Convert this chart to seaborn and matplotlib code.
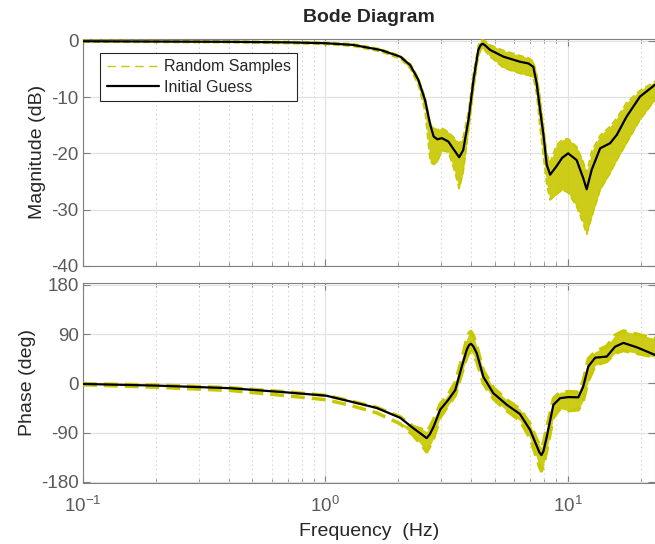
import matplotlib
matplotlib.use("Agg")
import numpy as np
import pandas as pd
import seaborn as sns
import matplotlib.pyplot as plt
from matplotlib.lines import Line2D
from matplotlib.ticker import LogLocator, FixedLocator

# --- magnitude (dB) ---
freq_mag = [0.1, 0.2, 0.4, 0.7, 1.0, 1.3, 1.69, 2.04, 2.24, 2.42, 2.58, 2.71, 2.8, 2.9,
            3.03, 3.22, 3.40, 3.57, 3.71, 3.90, 4.09, 4.28, 4.38, 4.47, 4.6, 4.79, 5.44,
            6.36, 6.89, 7.22, 7.45, 7.7, 7.94, 8.2, 8.47, 9.0, 9.5, 10.05, 10.9, 11.6,
            11.99, 12.58, 13.63, 14.98, 15.97, 17.5, 19.9, 22.95]
mag_nominal = [-0.05, -0.1, -0.15, -0.25, -0.4, -0.7, -1.6, -2.8, -4.3, -6.9, -10.5, -14.9,
               -17.0, -17.5, -17.3, -17.9, -19.4, -20.7, -19.4, -14.0, -6.9, -1.6, -0.7,
               -0.5, -0.9, -1.6, -2.8, -3.7, -4.0, -4.6, -7.5, -12.3, -16.5, -22.0, -23.8,
               -22.3, -20.8, -20.0, -21.2, -24.4, -26.4, -22.9, -19.1, -18.2, -16.7, -13.5,
               -9.9, -7.8]
mag_upper = [0.1, 0.05, 0.0, -0.1, -0.25, -0.5, -1.4, -2.6, -4.0, -6.5, -10.0, -14.5,
             -15.5, -15.8, -15.5, -16.2, -17.2, -18.3, -17.0, -12.5, -5.5, -0.8, 0.1,
             0.2, -0.1, -0.7, -1.7, -2.6, -3.0, -3.6, -5.8, -10.0, -14.8, -20.0, -21.7,
             -18.5, -17.6, -17.4, -18.8, -21.5, -23.5, -19.6, -16.8, -15.2, -13.7, -11.0,
             -8.8, -7.2]
mag_lower = [-0.2, -0.25, -0.3, -0.45, -0.6, -0.95, -1.9, -3.2, -4.9, -7.8, -12.5, -21.5,
             -22.0, -21.5, -19.5, -19.8, -22.8, -26.3, -23.3, -16.0, -8.8, -2.8, -1.6,
             -1.3, -1.9, -2.8, -4.8, -5.8, -6.1, -6.5, -9.5, -15.5, -20.5, -25.5, -28.3,
             -27.3, -26.5, -27.0, -29.5, -32.5, -34.4, -31.3, -26.5, -23.5, -21.2, -18.2,
             -14.0, -10.5]

# --- phase (deg) ---
freq_phase = [0.1, 0.2, 0.406, 0.673, 1.01, 1.268, 1.634, 2.04, 2.31, 2.55, 2.62, 2.7,
              2.8, 2.98, 3.22, 3.44, 3.66, 3.84, 3.92, 3.99, 4.08, 4.22, 4.49, 4.94, 5.61,
              6.36, 7.0, 7.47, 7.65, 7.8, 7.95, 8.21, 8.74, 9.31, 10.08, 11.08, 11.6,
              12.18, 13.0, 14.51, 15.7, 16.99, 19.3, 22.95]
phase_nominal = [-1, -4, -8.8, -16, -22.5, -33, -45, -63, -82, -96, -100, -93, -79, -48,
                 -30, -12, 31, 62, 70, 72.5, 68, 55, 12, -18, -39, -56, -85, -115, -126,
                 -131, -124, -97, -39, -27, -25, -25.5, -6, 31, 47, 49, 67, 74, 66, 52]
phase_upper = [-0.5, -3, -8, -15, -22, -32, -44, -61, -79, -85, -88, -80, -66, -38, -20,
               2, 45, 82, 92, 95, 88, 68, 24, -8, -30, -47, -74, -103, -112, -117, -108,
               -80, -28, -16, -15, -16, 5, 45, 58, 68, 88, 96, 90, 82]
phase_lower = [-2.5, -7, -13, -22, -30, -40, -54, -74, -95, -118, -125, -115, -100, -62,
               -40, -22, 18, 48, 56, 58, 52, 40, 0, -28, -50, -68, -100, -137, -152, -160,
               -150, -122, -62, -46, -50, -48, -32, 5, 33, 40, 55, 60, 55, 48]

mag_df = pd.DataFrame({"f": freq_mag, "nom": mag_nominal, "hi": mag_upper, "lo": mag_lower})
ph_df = pd.DataFrame({"f": freq_phase, "nom": phase_nominal, "hi": phase_upper, "lo": phase_lower})

YEL = "#C8C800"
GRAYTXT = "#5A5A5A"

sns.set_theme(style="ticks")
plt.rcParams['font.family'] = ['Liberation Sans', 'DejaVu Sans']
plt.rcParams['mathtext.fontset'] = 'custom'
plt.rcParams['mathtext.rm'] = 'Liberation Sans'
plt.rcParams['axes.unicode_minus'] = False

fig = plt.figure(figsize=(6.55, 5.44), dpi=100)
W, H = 655, 544
ax_mag = fig.add_axes([83 / W, 1 - 265.7 / H, 572 / W, 226.7 / H])
ax_ph = fig.add_axes([83 / W, 1 - 483 / H, 572 / W, 200.3 / H], sharex=ax_mag)


def draw_band(ax, df, edge_lw):
    spread = df["f"] >= 2.2
    ax.fill_between(df["f"], df["lo"], df["hi"], where=spread, interpolate=True,
                    color=YEL, alpha=0.9, lw=0, zorder=2)
    for col in ["hi", "lo"]:
        sns.lineplot(data=df, x="f", y=col, ax=ax, color=YEL, lw=edge_lw,
                     dashes=False, linestyle=(0, (4, 2)), zorder=3)
    sns.lineplot(data=df, x="f", y="nom", ax=ax, color="black", lw=1.6, zorder=5)


draw_band(ax_mag, mag_df, 1.2)
draw_band(ax_ph, ph_df, 2.5)

for ax in (ax_mag, ax_ph):
    ax.set_xscale("log")
    ax.set_xlim(0.1, 22.95)
    ax.xaxis.set_major_locator(LogLocator(base=10))
    ax.xaxis.set_minor_locator(LogLocator(base=10, subs=np.arange(2, 10)))
    ax.grid(which="major", color="#E2E2E2", lw=0.9, zorder=0)
    ax.grid(which="minor", axis="x", color="#C8C8C8", lw=0.8, ls=(0, (1, 3)), zorder=0)
    ax.set_axisbelow(True)
    ax.tick_params(which="both", direction="in", top=True, right=True, color="#808080",
                   labelcolor=GRAYTXT, labelsize=13.5, pad=3)
    ax.tick_params(axis="x", which="both", pad=9)
    ax.tick_params(which="major", length=5, width=0.8)
    ax.tick_params(which="minor", length=3, width=0.6)
    for s in ax.spines.values():
        s.set_color("#808080")
        s.set_linewidth(0.8)

ax_mag.set_ylim(-40, 0.35)
ax_mag.yaxis.set_major_locator(FixedLocator([-40, -30, -20, -10, 0]))
ax_mag.tick_params(axis="x", labelbottom=False)
ax_mag.set_ylabel("Magnitude (dB)", fontsize=14, color="#262626")
ax_mag.set_xlabel("")
ax_mag.set_title("Bode Diagram", fontsize=14, fontweight="bold", pad=12)

ax_ph.set_ylim(-182, 184)
ax_ph.yaxis.set_major_locator(FixedLocator([-180, -90, 0, 90, 180]))
ax_ph.set_ylabel("Phase (deg)", fontsize=14, color="#262626")
ax_ph.set_xlabel("Frequency  (Hz)", fontsize=14, color="#262626", labelpad=5)

handles = [Line2D([], [], color=YEL, lw=1.0, ls=(0, (6, 4))),
           Line2D([], [], color="black", lw=1.6)]
leg = ax_mag.legend(handles, ["Random Samples", "Initial Guess"], loc="upper left",
                    bbox_to_anchor=(0.03, 0.938), borderaxespad=0, fontsize=11.5,
                    frameon=True, fancybox=False, framealpha=1, edgecolor="#262626",
                    handlelength=3.3, handletextpad=0.3, labelspacing=0.35,
                    borderpad=0.4)
leg.get_frame().set_linewidth(0.8)

fig.savefig("out.png", dpi=100)
